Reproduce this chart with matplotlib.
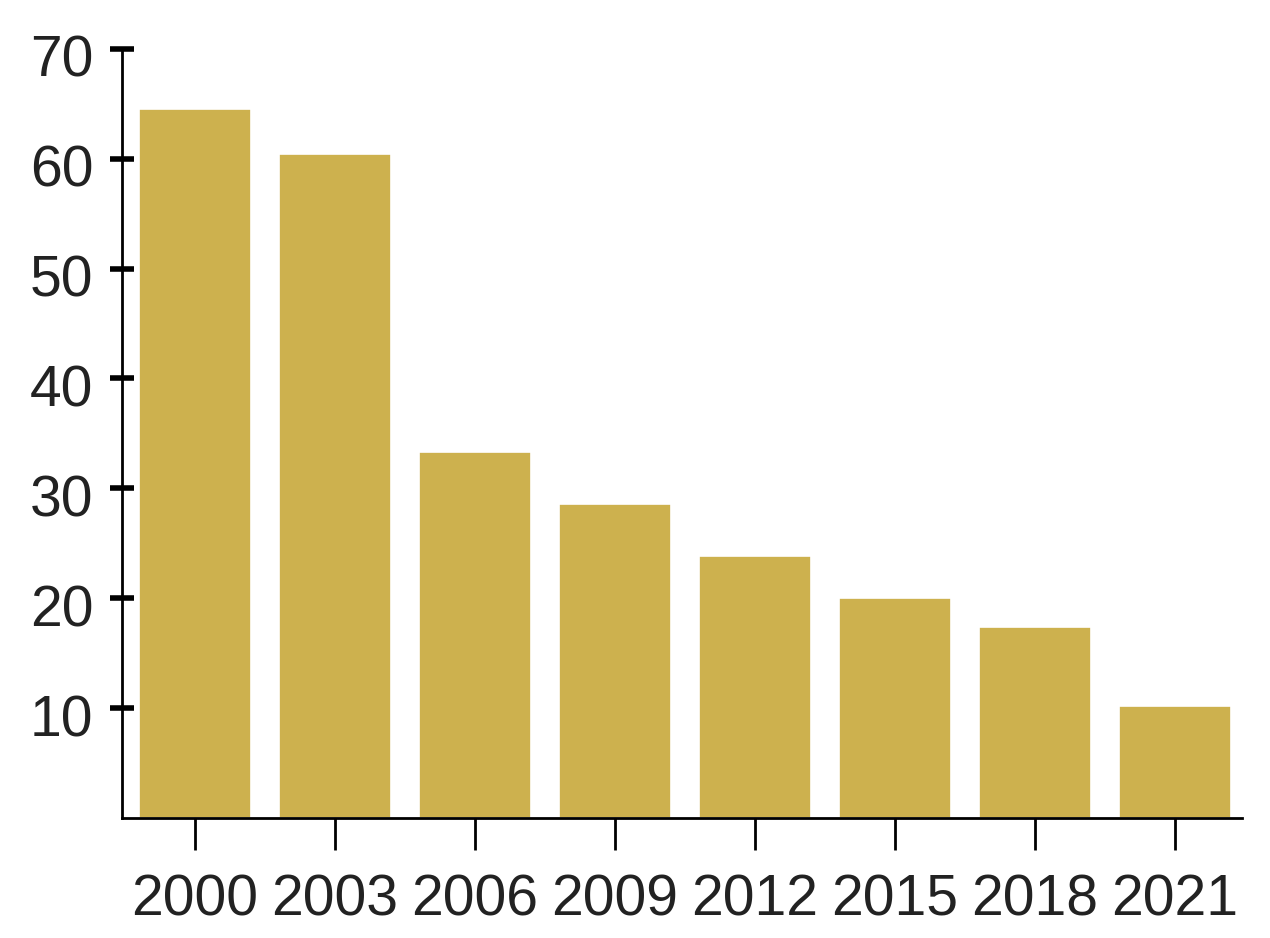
import matplotlib
matplotlib.use("Agg")
import matplotlib.pyplot as plt
from matplotlib.transforms import ScaledTranslation

years = ["2000", "2003", "2006", "2009", "2012", "2015", "2018", "2021"]
values = [64.5, 60.4, 33.3, 28.6, 23.8, 20.0, 17.4, 10.2]
yticks = [10, 20, 30, 40, 50, 60, 70]

plt.rcParams['font.family'] = ['Liberation Sans', 'DejaVu Sans']

fig = plt.figure(figsize=(6.35, 4.69), dpi=200)
ax = fig.add_axes([0.096, 0.128, 0.882, 0.820])

x = range(len(years))
ax.bar(x, values, width=0.8, color="#CDB14E", edgecolor="white", linewidth=0.6)

ax.set_xlim(-0.52, 7.48)
ax.set_ylim(0, 70)
ax.set_yticks(yticks)
ax.set_xticks(list(x))
ax.set_xticklabels(years)

for s in ["top", "right"]:
    ax.spines[s].set_visible(False)
for s in ["left", "bottom"]:
    ax.spines[s].set_linewidth(1.0)
    ax.spines[s].set_color("black")

ax.tick_params(axis="y", direction="inout", length=8.6, width=2.0, pad=6,
               labelsize=20.5, labelcolor="#222222", color="black")
ax.tick_params(axis="x", direction="out", length=11.5, width=1.0, pad=8.5,
               labelsize=20.5, labelcolor="#222222", color="black")

offset = ScaledTranslation(0, -2.5 / 72, fig.dpi_scale_trans)
for lbl in ax.get_yticklabels():
    lbl.set_transform(lbl.get_transform() + offset)

fig.savefig("out.png", dpi=200)
